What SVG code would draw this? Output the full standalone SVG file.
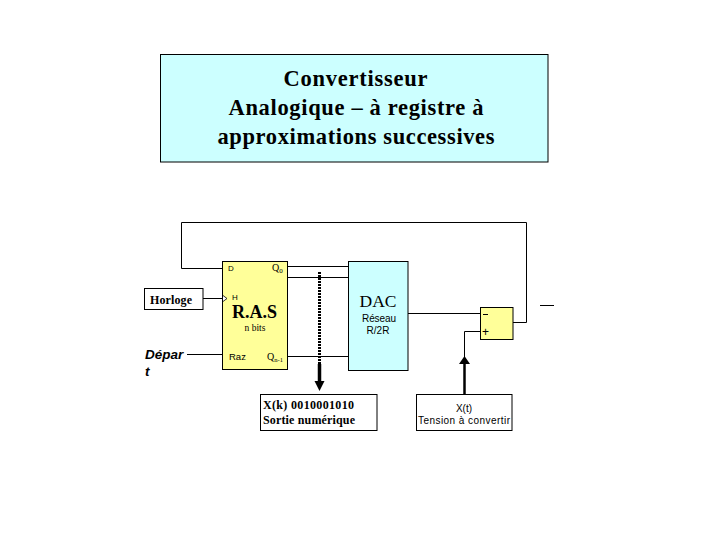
<svg xmlns="http://www.w3.org/2000/svg" width="720" height="540" viewBox="0 0 720 540">
<style>
.box{stroke:#000;stroke-width:1}
.w{fill:#fff}.c{fill:#ccffff}.y{fill:#ffff99}
.ln{fill:none;stroke:#000;stroke-width:1}
.s{font-family:"Liberation Serif",serif;fill:#000}
.a{font-family:"Liberation Sans",sans-serif;fill:#000}
.b{font-weight:bold}
.m{text-anchor:middle}
</style>
<rect width="720" height="540" fill="#fff"/>
<g id="title">
<rect class="box c" x="160.500" y="54.500" width="387.500" height="107.500"/>
<text class="s b m" x="355.500" y="86" font-size="22.500" textLength="144" lengthAdjust="spacing">Convertisseur</text>
<text class="s b m" x="356" y="115" font-size="22.500" textLength="255" lengthAdjust="spacing">Analogique – à registre à</text>
<text class="s b m" x="356" y="144" font-size="22.500" textLength="277" lengthAdjust="spacing">approximations successives</text>
</g>
<g id="connectors">
<path class="ln" d="M222 268.500H181.500V222.500H526.500V322.500H513"/>
<path class="ln" d="M287 266.500H348M287 277.500H348M287 356.500H348"/>
<path class="ln" d="M203 298.500H223M187 354.500H222"/>
<path class="ln" d="M408 313.500H480M480 331.500H464.500V358"/>
<path d="M464.500 394V364" fill="none" stroke="#000" stroke-width="2.500"/>
<path d="M464.500 356L470 364H459Z" fill="#000"/>
<path d="M319.500 272V364" fill="none" stroke="#000" stroke-width="3" stroke-dasharray="2 1"/>
<path d="M319.500 364V382" fill="none" stroke="#000" stroke-width="3.500"/>
<path d="M314.500 381H324.500L319.500 391Z" fill="#000"/>
<path class="ln" d="M540 305.500H554"/>
</g>
<g id="horloge">
<rect class="box w" x="144.500" y="288.500" width="58.500" height="21"/>
<text class="s b m" x="171" y="304" font-size="12" textLength="42" lengthAdjust="spacing">Horloge</text>
</g>
<g id="depart">
<text class="a b" x="145" y="359" font-size="13.500" font-style="italic">Dépar</text>
<text class="a b" x="145" y="376" font-size="13.500" font-style="italic">t</text>
</g>
<g id="ras">
<rect class="box y" x="222.500" y="261.500" width="65" height="108"/>
<path d="M223 295.500L227 298.500L223 301.500" fill="#fff" stroke="#000" stroke-width="0.800"/>
<text class="a" x="228" y="271" font-size="8">D</text>
<text class="s" x="272" y="271" font-size="10">Q<tspan font-size="7" dy="2">0</tspan></text>
<text class="a" x="232" y="300" font-size="8">H</text>
<text class="s b" x="232" y="318" font-size="18">R.A.S</text>
<text class="s m" x="255" y="331" font-size="9.500">n bits</text>
<text class="a" x="229" y="360" font-size="9.500">Raz</text>
<text class="s" x="267" y="360" font-size="10">Q<tspan font-size="6.500" dy="2">n-1</tspan></text>
</g>
<g id="dac">
<rect class="box c" x="348.500" y="261.500" width="59.500" height="109"/>
<text class="s m" x="378" y="307" font-size="17.500">DAC</text>
<text class="a m" x="379" y="322" font-size="10" textLength="34" lengthAdjust="spacing">Réseau</text>
<text class="a m" x="378" y="334" font-size="10">R/2R</text>
</g>
<g id="comparateur">
<rect class="box y" x="480.500" y="307.500" width="32.500" height="32"/>
<path d="M483 314.500H488" stroke="#000" stroke-width="1" fill="none"/>
<text class="a" x="482" y="336" font-size="12">+</text>
</g>
<g id="sortie">
<rect class="box w" x="260.500" y="394.500" width="116.500" height="36"/>
<text class="s b" x="263" y="409" font-size="12" textLength="91" lengthAdjust="spacing">X(k) 0010001010</text>
<text class="s b" x="263" y="424" font-size="12" textLength="92" lengthAdjust="spacing">Sortie numérique</text>
</g>
<g id="xt">
<rect class="box w" x="416.500" y="394.500" width="95.500" height="36"/>
<text class="a m" x="464" y="412" font-size="10">X(t)</text>
<text class="a m" x="464" y="424" font-size="10" textLength="92" lengthAdjust="spacing">Tension à convertir</text>
</g>
</svg>
